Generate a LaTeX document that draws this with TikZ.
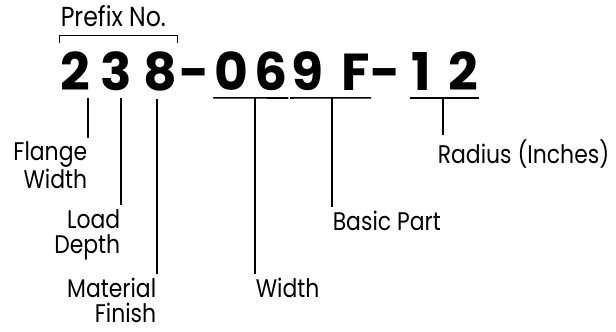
\documentclass[tikz,border=0pt]{standalone}
\usepackage{fontspec}
\setmainfont{Poppins}
\newfontfamily\schmal{Poppins}[FakeStretch=0.86]
\usepackage{tikz}
\usetikzlibrary{positioning,calc}

\begin{document}
\begin{tikzpicture}[x=1pt,y=-1pt,line width=1.6pt,
  ziffer/.style={anchor=base,inner xsep=0pt,inner ysep=7pt,font=\fontsize{52}{52}\selectfont\bfseries},
  beschr/.style={inner xsep=0pt,inner ysep=3pt,font=\schmal\fontsize{25.5}{25}\selectfont},
  links/.style={beschr,anchor=base east,align=right},
  rechts/.style={beschr,anchor=base west,align=left},
  titel/.style={inner sep=0pt,anchor=base west,font=\schmal\fontsize{27.5}{27}\selectfont}]
\useasboundingbox (0,0) rectangle (616,332);
%Ziffern der Teilenummer
\node[ziffer] (zA) at (75,90) {2};
\node[ziffer] (zB) at (116,90) {3};
\node[ziffer] (zC) at (160,90) {8};
\node[ziffer] (strichA) at (195,90) {-};
\node[ziffer] (zD) at (231,90) {0};
\node[ziffer] (zE) at (271,90) {6};
\node[ziffer] (zF) at (307,90) {9};
\node[ziffer] (zG) at (356,90) {F};
\node[ziffer] (strichB) at (386,90) {-};
\node[ziffer] (zH) at (421,90) {1};
\node[ziffer] (zI) at (463,90) {2};
%Klammer oben
\draw (zA.north west) -- ++(0,-8) coordinate (kl) -| (zC.north east);
\node[titel] (prefix) at (60,26) {Prefix No.};
%Unterstriche
\draw (zD.south west) -- (zE.south east);
\draw (zF.south west) -- (zG.south east);
\draw (zH.south west) -- (zI.south east);
%Beschriftungen (base = letzte Zeile)
\node[links] (flansch) at (88,188) {Flange\\Width};
\node[links] (tiefe) at (121,253) {Load\\Depth};
\node[links] (material) at (157,322) {Material\\Finish};
\node[rechts] (breite) at (255,297) {Width};
\node[rechts] (teil) at (332,230) {Basic Part};
\node[rechts] (radius) at (437,163) {Radius (Inches)};
\coordinate (rpkt) at ($(radius.north west)+(6,0)$);
%Linien
\draw (flansch.north east) -- (flansch.north east |- zA.south);
\draw (tiefe.north east) -- (tiefe.north east |- zB.south);
\draw (material.north east) -- (material.north east |- zC.south);
\draw (breite.north west) -- (breite.north west |- zE.south);
\draw (teil.north west) -- (teil.north west |- zG.south);
\draw (rpkt) -- (rpkt |- zI.south);
\end{tikzpicture}
\end{document}
